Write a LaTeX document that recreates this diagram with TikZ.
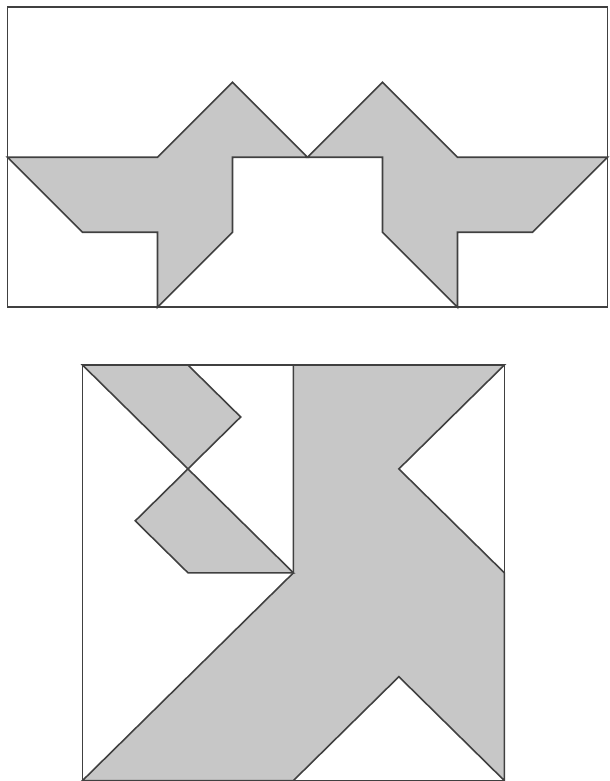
\documentclass[tikz,border=0pt]{standalone}
\usepackage{tikz}
\tikzset{
  piece/.style={fill=black!22,draw=black!75,line width=0.6pt,line join=miter},
  frame/.style={draw=black!75,line width=0.6pt}
}
\begin{document}
\begin{tikzpicture}
			\useasboundingbox (-0.1,-6.316) rectangle (8.02,4.097);
			% top frame
			\draw[frame] (0,0) rectangle (8,4);
			% left bird
			\draw[piece] (0,2) -- (1,1) -- (2,1) -- (2,0) -- (3,1) -- (3,2) -- (4,2) -- (3,3) -- (2,2) -- cycle;
			% right bird
			\draw[piece] (8,2) -- (7,1) -- (6,1) -- (6,0) -- (5,1) -- (5,2) -- (4,2) -- (5,3) -- (6,2) -- cycle;
			% square
			\begin{scope}[shift={(1,-6.31)},xscale=1.406,yscale=1.385]
				\draw[piece] (2,4) -- (4,4) -- (3,3) -- (4,2) -- (4,0) -- (3,1) -- (2,0) -- (0,0) -- (2,2) -- cycle;
				\draw[piece] (0,4) -- (1,4) -- (1.5,3.5) -- (1,3) -- cycle;
				\draw[piece] (1,3) -- (2,2) -- (1,2) -- (0.5,2.5) -- cycle;
				\draw[frame] (0,0) rectangle (4,4);
			\end{scope}
		\end{tikzpicture}
\end{document}
